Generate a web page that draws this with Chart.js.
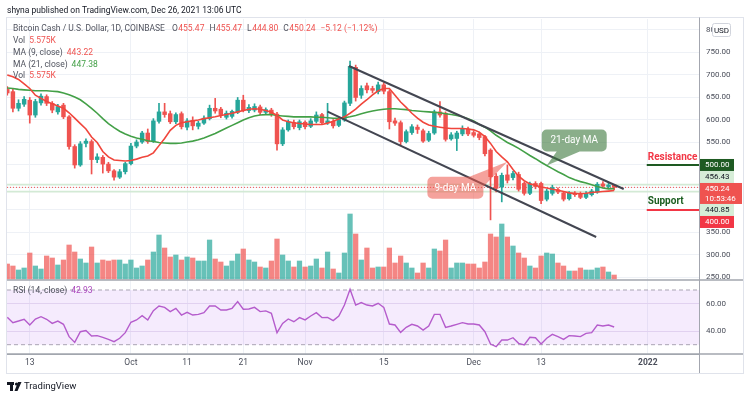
<!DOCTYPE html>
<html>
<head>
<meta charset="utf-8">
<title>Bitcoin Cash / U.S. Dollar, 1D, COINBASE</title>
<script src="https://cdn.jsdelivr.net/npm/chart.js@4.4.1/dist/chart.umd.min.js"></script>
<style>
  html, body { margin: 0; padding: 0; background: #fff; }
  canvas { display: block; }
</style>
</head>
<body>
<canvas id="chart" width="750" height="398"></canvas>
<script>
// Daily candles, index 0 = Sep 9 2021 ... index 108 = Dec 26 2021
const OPEN = [
  668, 663, 626, 635, 644, 611, 638, 652, 637, 618,
  633, 607, 541, 500, 548, 552, 512, 517, 502, 487,
  473, 485, 503, 542, 551, 571, 552, 597, 618, 614,
  596, 614, 584, 599, 586, 593, 603, 626, 624, 606,
  608, 617, 644, 621, 622, 629, 617, 622, 613, 547,
  578, 594, 583, 595, 586, 597, 612, 594, 597, 588,
  600, 637, 717, 655, 676, 670, 663, 678, 663, 598,
  594, 552, 572, 584, 576, 555, 571, 618, 615, 558,
  559, 569, 580, 572, 569, 563, 533, 475, 451, 478,
  472, 479, 459, 437, 459, 459, 424, 437, 445, 438,
  425, 437, 436, 428, 434, 440, 458, 452, 455.47
];
const HIGH = [
  674, 668, 645, 652, 650, 646, 658, 656, 641, 635,
  637, 610, 545, 552, 558, 556, 525, 521, 506, 490,
  490, 506, 548, 556, 575, 580, 603, 637, 637, 620,
  616, 618, 603, 607, 597, 609, 633, 648, 628, 620,
  622, 650, 655, 634, 636, 633, 627, 626, 617, 583,
  600, 600, 600, 598, 603, 618, 615, 637, 601, 605,
  642, 731, 722, 676, 682, 675, 684, 683, 667, 604,
  598, 578, 590, 589, 580, 575, 622, 641, 618, 572,
  575, 587, 584, 576, 573, 566, 536, 481, 482, 500,
  486, 484, 462, 462, 463, 462, 446, 455, 449, 441,
  441, 441, 440, 441, 446, 461, 463, 460, 455.47
];
const LOW = [
  655, 618, 620, 630, 593, 606, 633, 632, 616, 613,
  603, 535, 493, 497, 540, 480, 505, 482, 483, 466,
  470, 480, 500, 538, 548, 548, 550, 593, 606, 592,
  592, 580, 578, 578, 580, 590, 600, 615, 605, 602,
  604, 614, 618, 616, 618, 612, 612, 608, 533, 543,
  575, 580, 578, 580, 583, 593, 590, 590, 582, 585,
  597, 632, 642, 648, 660, 660, 658, 658, 580, 588,
  545, 549, 568, 570, 550, 552, 568, 606, 553, 555,
  532, 565, 565, 562, 556, 520, 378, 440, 418, 460,
  467, 442, 433, 434, 447, 414, 420, 433, 436, 420,
  422, 430, 425, 425, 431, 437, 449, 448, 444.80
];
const CLOSE = [
  660, 626, 637, 646, 611, 641, 653, 637, 622, 630,
  607, 541, 500, 547, 553, 512, 518, 502, 487, 473,
  485, 503, 542, 551, 571, 552, 598, 618, 612, 596,
  612, 585, 598, 587, 593, 604, 626, 620, 612, 615,
  619, 644, 621, 628, 630, 617, 623, 613, 547, 578,
  596, 585, 596, 585, 598, 611, 594, 598, 587, 601,
  638, 719, 650, 670, 667, 666, 678, 664, 596, 593,
  552, 574, 585, 579, 553, 570, 618, 611, 557, 567,
  571, 581, 569, 566, 561, 525, 474, 448, 477, 466,
  481, 446, 437, 458, 452, 421, 442, 450, 440, 424,
  438, 434, 428, 437, 442, 457, 453, 455.36, 450.24
];
// volume in thousands
const VOLUME = [
  21, 18.2, 12.6, 15.4, 36.4, 18.2, 14, 32.2, 29.4, 19.6,
  26.6, 47.6, 37.8, 28, 22.4, 44.8, 22.4, 26.6, 25.2, 26.6,
  26.6, 21, 26.6, 15.4, 18.2, 26.6, 37.8, 61.6, 43.4, 30.8,
  33.6, 26.6, 30.8, 29.4, 25.2, 25.2, 54.6, 28, 23.8, 18.2,
  25.2, 35, 42, 26.6, 23.8, 16.8, 15.4, 25.2, 56, 33.6,
  25.2, 16.8, 25.2, 16.8, 18.2, 28, 15.4, 37.8, 14, 8.4,
  36.4, 91, 63, 26.6, 43.4, 15.4, 16.8, 16.8, 43.4, 22.4,
  32.2, 22.4, 15.4, 8.4, 22.4, 15.4, 42, 39.2, 54.6, 15.4,
  22.4, 22.4, 21, 21, 15.4, 23.8, 63, 58.8, 77, 58.8,
  46.2, 36.4, 29.4, 18.2, 15.4, 32.2, 36.4, 35, 22.4, 18.2,
  11.2, 11.2, 15.4, 12.6, 12.6, 15.4, 16.8, 9.8, 5.575
];
const MA9 = [
  700, 696, 690, 680, 670, 655, 648, 641, 636, 631,
  626, 616, 604, 592, 580, 562, 550, 530, 518, 511,
  510, 509, 510, 513, 517, 520, 527, 543, 559, 577,
  588, 594, 596, 598, 600, 603, 605, 607, 610, 612,
  615, 618, 621, 624, 625, 624, 621, 617, 610, 600,
  596, 594, 592, 591, 590, 590, 590, 593, 597, 602,
  607, 615, 624, 635, 645, 656, 665, 670, 670, 655,
  640, 628, 615, 604, 595, 589, 586, 584, 582, 581,
  581, 581, 580, 578, 573, 563, 548, 530, 518, 507,
  490, 475, 465, 458, 455, 451, 449, 446, 444, 441,
  438, 437, 436, 437, 439, 440, 441, 442, 443.22
];
const MA21 = [
  671, 670, 668, 667, 666, 665, 665, 665, 664, 663,
  660, 656, 651, 645, 636, 626, 615, 603, 592, 583,
  575, 569, 564, 560, 557, 554, 552, 550, 549, 548,
  548, 549, 551, 553, 556, 560, 565, 570, 576, 582,
  588, 594, 600, 605, 609, 611, 612, 612, 610, 609,
  608, 607, 607, 607, 607, 606, 606, 605, 604, 604,
  605, 607, 610, 614, 617, 620, 622, 624, 625, 625,
  624, 623, 621, 620, 619, 618, 617, 616, 614, 612,
  610, 607, 603, 598, 590, 584, 576, 566, 558, 550,
  544, 537, 529, 521, 514, 506, 499, 492, 485, 479,
  472, 467, 463, 460, 456, 452, 449, 447, 447.38
];
const RSI = [
  50.0, 46.1, 47.3, 48.6, 44.4, 48.8, 50.5, 48.6, 45.6, 47.3,
  44.9, 35.9, 31.7, 39.5, 40.3, 36.4, 36.6, 35.4, 33.9, 32.2,
  34.7, 38.8, 46.4, 48.1, 51.2, 48.1, 54.9, 58.3, 57.3, 54.2,
  56.6, 51.7, 53.7, 51.7, 52.2, 53.4, 58.3, 58.3, 55.4, 55.4,
  56.6, 61.5, 55.9, 56.1, 57.3, 54.2, 54.7, 53.0, 38.8, 45.6,
  48.8, 46.8, 49.8, 48.1, 51.0, 53.4, 49.8, 50.0, 47.6, 51.0,
  59.0, 70.5, 59.0, 60.8, 59.0, 58.3, 60.3, 57.3, 45.1, 44.4,
  39.0, 42.7, 44.9, 43.7, 40.7, 43.7, 52.2, 52.2, 42.7, 43.7,
  44.9, 46.1, 45.1, 45.1, 44.4, 39.5, 30.5, 28.6, 33.4, 33.4,
  35.1, 31.0, 29.8, 35.4, 35.1, 30.5, 34.7, 37.6, 35.9, 33.9,
  36.6, 36.4, 35.9, 38.3, 38.8, 44.4, 43.7, 44.4, 42.93
];

// time axis: day index of each label
const TICK_DAYS = [4, 22, 32, 42, 53, 67, 83, 95, 114];
const TICK_LABELS = ['13', 'Oct', '11', '21', 'Nov', '15', 'Dec', '13', '2022'];
const PRICE_TICKS = [250, 300, 350, 400, 450, 500, 550, 600, 650, 700, 750, 800];
const RSI_TICKS = [40, 60];

// drawings: [day, price]
const CHANNEL_TOP = [[60.8, 720], [109.7, 446.7]];
const CHANNEL_BOTTOM = [[57, 618.5], [104.8, 340]];
const RESISTANCE = 500;
const SUPPORT = 400;
const LEVELS_FROM = 113.8;
const BAND_HIGH = 456.43;
const BAND_LOW = 440.85;
const COUNTDOWN = '10:53:46';

const X_MIN = -0.05, X_MAX = 123.1;
const FONT = 'Roboto, "Noto Sans", sans-serif';
const GREEN = '#26a69a', RED = '#ef5350';
const GRID = '#eef1f6', AXIS = '#a3a6af', TEXT = '#4a4e5a', LEG = '#50535e';

const last = CLOSE.length - 1;
const days = CLOSE.map((_, i) => i);
const isUp = days.map((i) => CLOSE[i] >= OPEN[i]);
const pts = (arr) => days.map((i) => ({ x: i, y: arr[i] }));
const seg = (pairs) => pairs.map(([x, y]) => ({ x, y }));
const hline = (v, from) => [{ x: from, y: v }, { x: X_MAX, y: v }];

function lineSet(data, color, width, extra) {
  return Object.assign({
    type: 'line', data, borderColor: color, borderWidth: width,
    pointRadius: 0, tension: 0, fill: false, yAxisID: 'y'
  }, extra || {});
}

function txt(ctx, s, x, y, color, size, weight, align, base) {
  ctx.font = (weight || 'normal') + ' ' + size + 'px ' + FONT;
  ctx.fillStyle = color;
  ctx.textAlign = align || 'left';
  ctx.textBaseline = base || 'middle';
  ctx.fillText(s, x, y);
  return ctx.measureText(s).width;
}

function row(ctx, x, y, size, parts) {
  ctx.font = size + 'px ' + FONT;
  ctx.textAlign = 'left';
  ctx.textBaseline = 'middle';
  for (const [s, color, gap] of parts) {
    ctx.fillStyle = color;
    ctx.fillText(s, x, y);
    x += ctx.measureText(s).width + (gap || 0);
  }
}

// overlapping axis tags are stacked, a pinned tag keeps its own place
function makeGroup(items) {
  const h = items.reduce((s, it) => s + it.h, 0);
  const p = items.findIndex((it) => it.pinned);
  let top;
  if (p >= 0) {
    top = items[p].c - items[p].h / 2 - items.slice(0, p).reduce((s, it) => s + it.h, 0);
  } else {
    top = items.reduce((s, it) => s + it.c, 0) / items.length - h / 2;
  }
  return { items, h, top };
}

function stackTags(items) {
  const groups = [];
  for (const it of items) {
    groups.push(makeGroup([it]));
    while (groups.length > 1) {
      const a = groups[groups.length - 2], b = groups[groups.length - 1];
      if (a.top + a.h <= b.top) break;
      groups.splice(-2, 2, makeGroup(a.items.concat(b.items)));
    }
  }
  groups.forEach((g) => {
    let y = g.top;
    g.items.forEach((it) => { it.top = y; y += it.h; });
  });
}

function callout(ctx, tip, c) {
  const bx = tip.x + c.box[0], by = tip.y + c.box[1];
  let tri = [[tip.x + c.base[0][0], tip.y + c.base[0][1]], [tip.x + c.base[1][0], tip.y + c.base[1][1]], [tip.x, tip.y]];
  const cross = (tri[1][0] - tri[0][0]) * (tri[2][1] - tri[0][1]) - (tri[1][1] - tri[0][1]) * (tri[2][0] - tri[0][0]);
  if (cross < 0) tri = [tri[1], tri[0], tri[2]];
  ctx.save();
  ctx.globalAlpha = c.alpha;
  ctx.fillStyle = c.color;
  ctx.beginPath();
  ctx.roundRect(bx, by, c.box[2], c.box[3], 5);
  ctx.moveTo(tri[0][0], tri[0][1]);
  ctx.lineTo(tri[1][0], tri[1][1]);
  ctx.lineTo(tri[2][0], tri[2][1]);
  ctx.closePath();
  ctx.fill();
  ctx.restore();
  txt(ctx, c.text, bx + c.box[2] / 2, by + c.box[3] / 2 + 0.5, '#ffffff', 10, 'normal', 'center');
}

const CALLOUTS = [
  { text: '21-day MA', day: 96, series: MA21, color: 'rgb(60,120,60)', alpha: 0.6, box: [-5, -36, 65, 22], base: [[10, -14], [33, -14]] },
  { text: '9-day MA', day: 89, series: MA9, color: 'rgb(236,85,75)', alpha: 0.55, box: [-80, 15, 56, 22], base: [[-38, 15], [-24, 25]] }
];

const fmt = (v) => v.toFixed(2);

const decor = {
  id: 'decor',
  afterDatasetsDraw(chart) {
    const ctx = chart.ctx, x = chart.scales.x, y = chart.scales.y, yr = chart.scales.yr;
    ctx.save();
    CALLOUTS.forEach((c) => callout(ctx, { x: x.getPixelForValue(c.day), y: y.getPixelForValue(c.series[c.day]) }, c));

    const lx = x.getPixelForValue(LEVELS_FROM) + 1;
    txt(ctx, 'Resistance', lx, y.getPixelForValue(RESISTANCE) - 2, '#f23645', 10, 'bold', 'left', 'bottom');
    txt(ctx, 'Support', lx, y.getPixelForValue(SUPPORT) - 3, '#1b5e20', 10, 'bold', 'left', 'bottom');

    const chg = CLOSE[last] - CLOSE[last - 1];
    const pct = chg / CLOSE[last - 1] * 100;
    const sign = (v) => (v < 0 ? '\u2212' : '+') + Math.abs(v).toFixed(2);
    const vcol = isUp[last] ? GREEN : RED;
    const left = chart.chartArea.left + 6;
    row(ctx, left, 29, 8.5, [
      ['Bitcoin Cash / U.S. Dollar, 1D, COINBASE', LEG, 7],
      ['O', LEG, 0.5], [fmt(OPEN[last]), vcol, 5],
      ['H', LEG, 0.5], [fmt(HIGH[last]), vcol, 5],
      ['L', LEG, 0.5], [fmt(LOW[last]), vcol, 5],
      ['C', LEG, 0.5], [fmt(CLOSE[last]), vcol, 5],
      [sign(chg) + ' (' + sign(pct) + '%)', vcol, 0]
    ]);
    const vol = VOLUME[last].toFixed(3) + 'K';
    row(ctx, left, 41, 8.5, [['Vol', LEG, 4], [vol, vcol, 0]]);
    row(ctx, left, 53, 8.5, [['MA (9, close)', LEG, 4], [fmt(MA9[last]), RED, 0]]);
    row(ctx, left, 64.5, 8.5, [['MA (21, close)', LEG, 4], [fmt(MA21[last]), '#43a047', 0]]);
    row(ctx, left, 76, 8.5, [['Vol', LEG, 4], [vol, vcol, 0]]);
    row(ctx, left, yr.top + 11, 8.5, [['RSI (14, close)', LEG, 4], [fmt(RSI[last]), '#ab47bc', 0]]);
    ctx.restore();
  },
  afterDraw(chart) {
    const ctx = chart.ctx, y = chart.scales.y, yr = chart.scales.yr, a = chart.chartArea;
    const L = a.left, R = a.right, FR = R + 44, TOP = 17.5, BOT = chart.scales.x.bottom;
    ctx.save();
    // frame and pane separators
    ctx.strokeStyle = '#e0e3eb';
    ctx.lineWidth = 1;
    ctx.strokeRect(L - 0.5, TOP, FR - L + 1, BOT - TOP + 0.5);
    ctx.strokeStyle = AXIS;
    ctx.lineWidth = 1.6;
    ctx.beginPath();
    ctx.moveTo(L, yr.top); ctx.lineTo(FR, yr.top);
    ctx.moveTo(L, a.bottom); ctx.lineTo(FR, a.bottom);
    ctx.stroke();
    ctx.lineWidth = 1;
    ctx.beginPath();
    ctx.moveTo(R + 0.5, TOP); ctx.lineTo(R + 0.5, BOT);
    ctx.stroke();

    // price tags on the axis
    const tags = [
      { v: RESISTANCE, lines: [fmt(RESISTANCE)], bg: '#1e5a22', fg: '#ffffff', w: 34, h: 12, pinned: true },
      { v: BAND_HIGH, lines: [fmt(BAND_HIGH)], bg: '#d6edd7', fg: '#131722', w: 34, h: 12 },
      { v: CLOSE[last], lines: [fmt(CLOSE[last]), COUNTDOWN], bg: '#ef5350', fg: '#ffffff', w: 42, h: 21 },
      { v: BAND_LOW, lines: [fmt(BAND_LOW)], bg: '#d6edd7', fg: '#131722', w: 34, h: 12 },
      { v: SUPPORT, lines: [fmt(SUPPORT)], bg: '#f23645', fg: '#ffffff', w: 34, h: 12 }
    ];
    tags.forEach((t) => { t.c = y.getPixelForValue(t.v); });
    stackTags(tags);
    tags.forEach((t) => {
      ctx.fillStyle = t.bg;
      ctx.fillRect(R + 1, t.top, t.w, t.h);
      t.lines.forEach((s, i) => txt(ctx, s, R + 6, t.top + (i + 0.5) * t.h / t.lines.length + 0.5, t.fg, 8, 'normal'));
    });

    // currency box over the 800 label
    ctx.fillStyle = '#ffffff';
    ctx.strokeStyle = '#d1d4dc';
    ctx.beginPath();
    ctx.roundRect(712.5, 23.5, 18, 13, 2);
    ctx.fill();
    ctx.stroke();
    txt(ctx, 'USD', 721.5, 30.5, '#131722', 8, 'normal', 'center');

    // header and footer
    txt(ctx, 'shyna published on TradingView.com, Dec 26, 2021 13:06 UTC', 7, 11, '#131722', 8.5);
    ctx.fillStyle = '#131722';
    ctx.fillRect(7, 382, 7, 3);
    ctx.fillRect(10, 382, 3, 9);
    ctx.beginPath();
    ctx.arc(16.5, 384, 1.6, 0, Math.PI * 2);
    ctx.fill();
    ctx.beginPath();
    ctx.moveTo(18, 382); ctx.lineTo(21.5, 382); ctx.lineTo(17.5, 391); ctx.lineTo(14.5, 391);
    ctx.closePath();
    ctx.fill();
    txt(ctx, 'TradingView', 24, 386.5, '#131722', 9.5);
    ctx.restore();
  }
};

Chart.defaults.font.family = FONT;

new Chart(document.getElementById('chart'), {
  type: 'bar',
  data: {
    datasets: [
      lineSet(seg(CHANNEL_TOP), '#434651', 2),
      lineSet(seg(CHANNEL_BOTTOM), '#434651', 2),
      lineSet(hline(RESISTANCE, LEVELS_FROM), '#1e5a22', 2),
      lineSet(hline(SUPPORT, LEVELS_FROM), '#f23645', 2),
      lineSet(pts(MA9), '#f0463c', 1.6),
      lineSet(pts(MA21), '#43a047', 1.6),
      {
        label: 'body', data: days.map((i) => ({ x: i, y: [OPEN[i], CLOSE[i]] })),
        backgroundColor: days.map((i) => (isUp[i] ? GREEN : RED)),
        barThickness: 3.8, minBarLength: 1, grouped: false, yAxisID: 'y'
      },
      {
        label: 'wick', data: days.map((i) => ({ x: i, y: [LOW[i], HIGH[i]] })),
        backgroundColor: days.map((i) => (isUp[i] ? GREEN : RED)),
        barThickness: 1, grouped: false, yAxisID: 'y'
      },
      lineSet(hline(CLOSE[last], X_MIN), RED, 1, { borderDash: [1, 2] }),
      lineSet(hline(BAND_HIGH, X_MIN), '#d3ead5', 1.6),
      lineSet(hline(BAND_LOW, X_MIN), '#d3ead5', 1.6),
      {
        label: 'volume', data: days.map((i) => ({ x: i, y: VOLUME[i] })),
        backgroundColor: days.map((i) => (isUp[i] ? 'rgba(38,166,154,0.7)' : 'rgba(239,83,80,0.7)')),
        barThickness: 4.6, grouped: false, yAxisID: 'yv'
      },
      lineSet(pts(RSI), '#b55ccc', 1.4, { yAxisID: 'yr' }),
      lineSet(hline(30, X_MIN), '#a9a4b3', 1, { yAxisID: 'yr', borderDash: [4, 3] }),
      lineSet(hline(70, X_MIN), '#a9a4b3', 1, { yAxisID: 'yr', borderDash: [4, 3], fill: { value: 30 }, backgroundColor: 'rgba(180,100,240,0.13)' })
    ]
  },
  options: {
    responsive: false,
    animation: false,
    events: [],
    layout: { padding: { left: 7, top: 19, right: 7, bottom: 25 } },
    plugins: { legend: { display: false }, tooltip: { enabled: false } },
    scales: {
      x: {
        type: 'linear', min: X_MIN, max: X_MAX, offset: false,
        grid: { color: GRID, drawTicks: false, offset: false },
        border: { color: AXIS },
        afterBuildTicks: (s) => { s.ticks = TICK_DAYS.map((v) => ({ value: v })); },
        afterFit: (s) => { s.height = 19; },
        ticks: {
          padding: 4, color: TEXT, maxRotation: 0, autoSkip: false,
          font: (c) => ({ family: FONT, size: 8.5, weight: c.tick && c.tick.value === 114 ? 'bold' : 'normal' }),
          callback: (v) => TICK_LABELS[TICK_DAYS.indexOf(v)]
        }
      },
      y: {
        position: 'right', stack: 'pane', stackWeight: 261, min: 244.4, max: 824.4,
        grid: { color: GRID, drawTicks: false },
        border: { color: AXIS },
        afterBuildTicks: (s) => { s.ticks = PRICE_TICKS.map((v) => ({ value: v })); },
        afterFit: (s) => { s.width = 44; },
        ticks: {
          padding: 7, color: TEXT, font: { size: 8 }, autoSkip: false,
          callback: (v) => ([400, 450, 500].includes(v) ? '' : v.toFixed(2))
        }
      },
      yr: {
        position: 'right', stack: 'pane', stackWeight: 74, min: 23.2, max: 77.3,
        grid: { color: '#e9e2f0', drawTicks: false },
        border: { color: AXIS },
        afterBuildTicks: (s) => { s.ticks = RSI_TICKS.map((v) => ({ value: v })); },
        afterFit: (s) => { s.width = 44; },
        ticks: { padding: 7, color: TEXT, font: { size: 8 }, autoSkip: false, callback: (v) => v.toFixed(2) }
      },
      yv: { display: false, min: -105, max: 364 }
    }
  },
  plugins: [decor]
});
</script>
</body>
</html>
